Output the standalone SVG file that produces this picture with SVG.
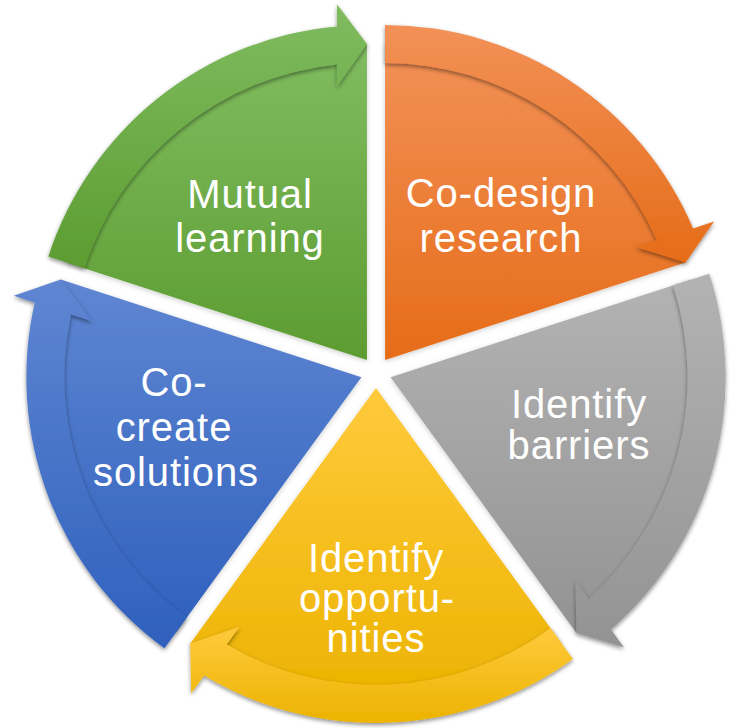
<svg xmlns="http://www.w3.org/2000/svg" width="730" height="728" viewBox="0 0 730 728">
  <defs>
    <linearGradient id="gGreen" x1="0" y1="0" x2="0" y2="1">
      <stop offset="0" stop-color="#80bc60"/>
      <stop offset="1" stop-color="#5c9c31"/>
    </linearGradient>
    <linearGradient id="gOrange" x1="0" y1="0" x2="0" y2="1">
      <stop offset="0" stop-color="#f29157"/>
      <stop offset="1" stop-color="#e66c18"/>
    </linearGradient>
    <linearGradient id="gGray" x1="0" y1="0" x2="0" y2="1">
      <stop offset="0" stop-color="#b3b3b3"/>
      <stop offset="1" stop-color="#939393"/>
    </linearGradient>
    <linearGradient id="gYellow" x1="0" y1="0" x2="0" y2="1">
      <stop offset="0" stop-color="#ffca3c"/>
      <stop offset="1" stop-color="#ecb300"/>
    </linearGradient>
    <linearGradient id="gBlue" x1="0" y1="0" x2="0" y2="1">
      <stop offset="0" stop-color="#5f86d2"/>
      <stop offset="1" stop-color="#2f60bd"/>
    </linearGradient>
    <filter id="shadow" x="-10%" y="-10%" width="120%" height="120%">
      <feDropShadow dx="0" dy="2" stdDeviation="2.2" flood-color="#000" flood-opacity="0.45"/>
    </filter>
    <filter id="softShadow" x="-10%" y="-10%" width="120%" height="120%">
      <feDropShadow dx="0" dy="1.5" stdDeviation="2.5" flood-color="#000" flood-opacity="0.2"/>
    </filter>
  </defs>
  <style>
    .slice { filter: url(#softShadow); }
    .arrow { filter: url(#shadow); }
    .label { font-family: "Liberation Sans", Arial, sans-serif; font-size: 40px; fill: #ffffff; text-anchor: middle; letter-spacing: 0.9px; }
  </style>

  <g id="node-mutual-learning">
    <path class="slice" fill="url(#gGreen)" d="M366.95,360.04 L66.42,262.39 A316,316 0 0 1 366.95,44.04 Z"/>
    <text class="label"><tspan x="250" y="208">Mutual</tspan><tspan x="250" y="252">learning</tspan></text>
  </g>
  <g id="node-co-design-research">
    <path class="slice" fill="url(#gOrange)" d="M385.05,360.04 L385.05,44.04 A316,316 0 0 1 685.58,262.39 Z"/>
    <text class="label"><tspan x="501" y="207">Co-design</tspan><tspan x="501" y="252">research</tspan></text>
  </g>
  <g id="node-identify-barriers">
    <path class="slice" fill="url(#gGray)" d="M390.65,377.26 L691.18,279.61 A316,316 0 0 1 576.39,632.91 Z"/>
    <text class="label"><tspan x="579" y="418">Identify</tspan><tspan x="579" y="459">barriers</tspan></text>
  </g>
  <g id="node-identify-opportunities">
    <path class="slice" fill="url(#gYellow)" d="M376,387.9 L561.74,643.55 A316,316 0 0 1 190.26,643.55 Z"/>
    <text class="label"><tspan x="376" y="572">Identify</tspan><tspan x="377" y="612">opportu-</tspan><tspan x="376" y="652">nities</tspan></text>
  </g>
  <g id="node-co-create-solutions">
    <path class="slice" fill="url(#gBlue)" d="M361.35,377.26 L175.61,632.91 A316,316 0 0 1 60.82,279.61 Z"/>
    <text class="label"><tspan x="174" y="396">Co-</tspan><tspan x="174" y="441">create</tspan><tspan x="176" y="486">solutions</tspan></text>
  </g>

  <g id="connectors">
    <path class="arrow" fill="url(#gGreen)" d="M48.35,256.52 A335,335 0 0 1 336.95,26.39 L336.95,4.30 L366.95,44.04 L336.95,86.68 L336.95,64.56 A297,297 0 0 0 84.49,268.26 Z"/>
    <path class="arrow" fill="url(#gOrange)" d="M385.05,25.04 A335,335 0 0 1 693.10,228.41 L714.11,221.58 L685.58,262.39 L635.76,247.04 L656.80,240.20 A297,297 0 0 0 385.05,63.04 Z"/>
    <path class="arrow" fill="url(#gGray)" d="M709.25,273.74 A335,335 0 0 1 611.04,629.56 L624.02,647.43 L576.39,632.91 L575.60,580.78 L588.60,598.68 A297,297 0 0 0 673.11,285.48 Z"/>
    <path class="arrow" fill="url(#gYellow)" d="M572.91,658.92 A335,335 0 0 1 204.15,675.46 L191.17,693.33 L190.26,643.55 L239.59,626.68 L226.59,644.58 A297,297 0 0 0 550.57,628.18 Z"/>
    <path class="arrow" fill="url(#gBlue)" d="M164.44,648.28 A335,335 0 0 1 34.76,302.69 L13.75,295.86 L60.82,279.61 L92.10,321.32 L71.06,314.48 A297,297 0 0 0 186.78,617.54 Z"/>
  </g>
</svg>
